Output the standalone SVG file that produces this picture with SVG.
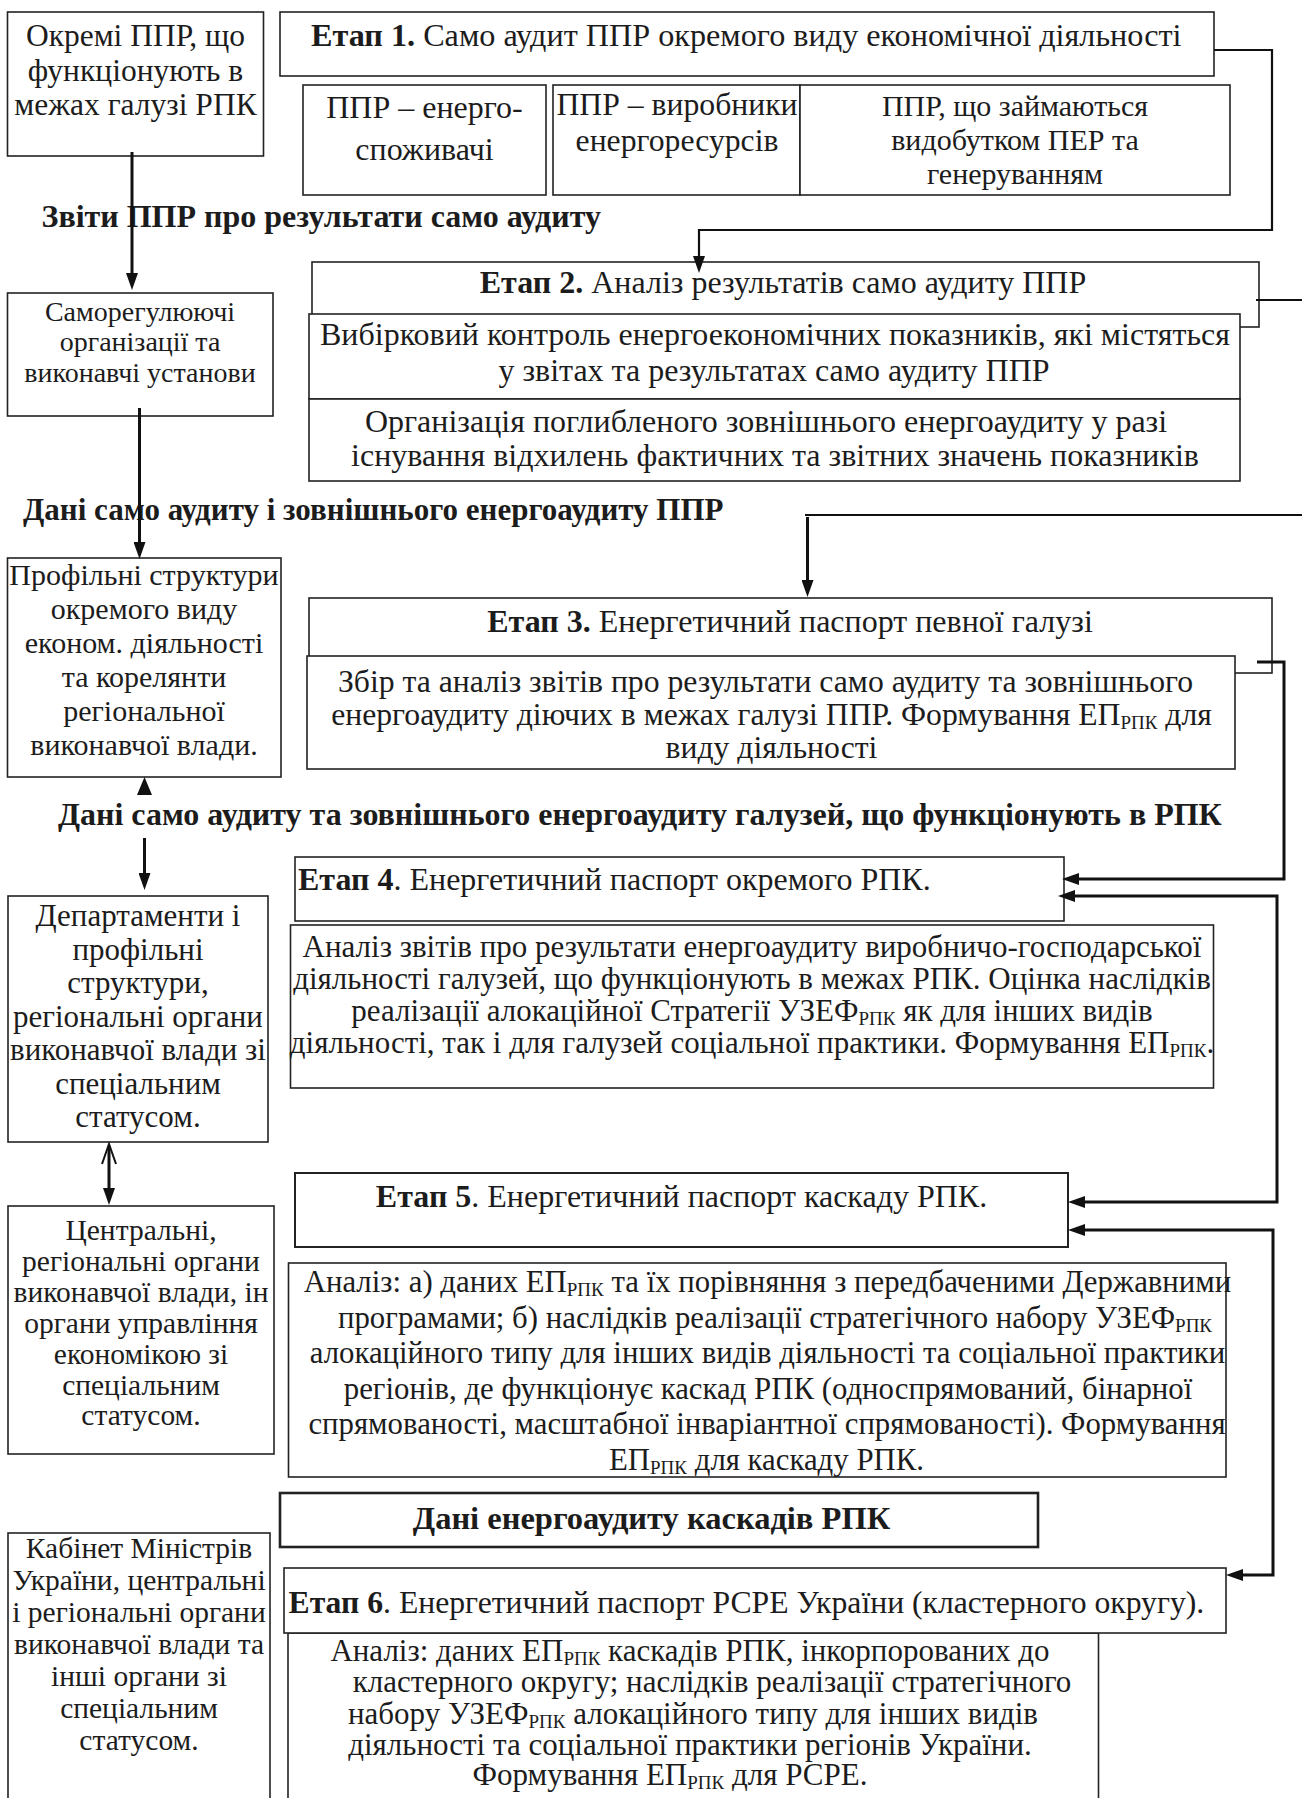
<svg xmlns="http://www.w3.org/2000/svg" width="1302" height="1798" viewBox="0 0 1302 1798">
<defs>
<style>
.bx{fill:#fff;stroke:#222;stroke-width:1.6}
.bx2{fill:#fff;stroke:#222;stroke-width:2.6}
text{font-family:"Liberation Serif","Times New Roman",serif;fill:#1c1c1c;font-size:32px}
.m{text-anchor:middle}
.b{font-weight:bold}
.s{font-size:19px}
.f31{font-size:31px}
.f30{font-size:30px}
.f29{font-size:29.5px}
.f28{font-size:28px}
.cn{fill:none;stroke:#111;stroke-width:3}
.cn2{fill:none;stroke:#111;stroke-width:2.2}
</style>
<marker id="ah" markerUnits="userSpaceOnUse" markerWidth="17" markerHeight="12" refX="10" refY="6" orient="auto-start-reverse" viewBox="0 0 17 12"><path d="M0,0 L17,6 L0,12 z" fill="#111"/></marker>
</defs>
<rect width="1302" height="1798" fill="#fff"/>

<g id="n-okremi">
<rect class="bx" x="7.5" y="12" width="256" height="144"/>
<text class="m" x="135.5" y="46" style="font-size:31.5px">Окремі ППР, що</text>
<text class="m" x="135.5" y="81" style="font-size:31.5px">функціонують в</text>
<text class="m" x="135.5" y="115" style="font-size:31.5px">межах галузі РПК</text>
</g>

<g id="n-etap1">
<rect class="bx" x="280" y="12" width="934" height="64"/>
<text x="311" y="46" style="font-size:32.2px"><tspan class="b">Етап 1.</tspan> Само аудит ППР окремого виду економічної діяльності</text>
</g>

<g id="n-energo">
<rect class="bx" x="303" y="85" width="243" height="110"/>
<text class="m" x="424.5" y="118">ППР – енерго-</text>
<text class="m" x="424.5" y="160">споживачі</text>
</g>

<g id="n-vyrobnyky">
<rect class="bx" x="553" y="85" width="247" height="110"/>
<text class="m" x="677" y="115" style="font-size:31.7px">ППР – виробники</text>
<text class="m" x="677" y="151" style="font-size:31.7px">енергоресурсів</text>
</g>

<g id="n-vydobutok">
<rect class="bx" x="800" y="85" width="430" height="110"/>
<text class="m f30" x="1015" y="116">ППР, що займаються</text>
<text class="m f30" x="1015" y="150">видобутком ПЕР та</text>
<text class="m f30" x="1015" y="184">генеруванням</text>
</g>

<g id="l-zvity">
<text class="b" x="41.5" y="227">Звіти ППР про результати само аудиту</text>
</g>

<g id="n-samoreg">
<rect class="bx" x="7.5" y="293" width="265.5" height="123"/>
<text class="m f28" x="140" y="321">Саморегулюючі</text>
<text class="m f28" x="140" y="351">організації та</text>
<text class="m f28" x="140" y="382">виконавчі установи</text>
</g>

<g id="n-etap2">
<rect class="bx" x="312" y="262" width="947" height="65"/>
<text class="m" x="783" y="293"><tspan class="b">Етап 2.</tspan> Аналіз результатів само аудиту ППР</text>
<rect class="bx" x="309" y="314" width="931" height="85"/>
<text class="m" x="775" y="345">Вибірковий контроль енергоекономічних показників, які містяться</text>
<text class="m" x="774" y="381">у звітах та результатах само аудиту ППР</text>
<rect class="bx" x="309" y="399" width="931" height="82"/>
<text class="m" x="766" y="432">Організація поглибленого зовнішнього енергоаудиту у разі</text>
<text class="m" x="775" y="466">існування відхилень фактичних та звітних значень показників</text>
</g>

<g id="l-dani1">
<text class="b f31" x="23" y="520">Дані само аудиту і зовнішнього енергоаудиту ППР</text>
</g>

<g id="n-profilni">
<rect class="bx" x="7.5" y="558" width="273.5" height="219"/>
<text class="m f30" x="144" y="585">Профільні структури</text>
<text class="m f30" x="144" y="619">окремого виду</text>
<text class="m f30" x="144" y="653">економ. діяльності</text>
<text class="m f30" x="144" y="687">та корелянти</text>
<text class="m f30" x="144" y="721">регіональної</text>
<text class="m f30" x="144" y="755">виконавчої влади.</text>
</g>

<g id="n-etap3">
<rect class="bx" x="309" y="598" width="963" height="75"/>
<text class="m" x="790" y="632"><tspan class="b">Етап 3.</tspan> Енергетичний паспорт певної галузі</text>
<rect class="bx" x="307" y="656" width="928" height="113"/>
<text class="m" x="765.5" y="692" style="font-size:31.7px">Збір та аналіз звітів про результати само аудиту та зовнішнього</text>
<text class="m" x="771.5" y="725" style="font-size:31.7px">енергоаудиту діючих в межах галузі ППР. Формування ЕП<tspan class="s" dy="4">РПК</tspan><tspan dy="-4"> для</tspan></text>
<text class="m" x="771.5" y="758" style="font-size:31.7px">виду діяльності</text>
</g>

<g id="l-dani2">
<text class="b" x="58" y="825">Дані само аудиту та зовнішнього енергоаудиту галузей, що функціонують в РПК</text>
</g>

<g id="n-etap4">
<rect class="bx" x="295" y="857" width="769" height="64"/>
<text x="298" y="890"><tspan class="b">Етап 4</tspan>. Енергетичний паспорт окремого РПК.</text>
<rect class="bx" x="290.5" y="925" width="923" height="163"/>
<text class="m f31" x="752" y="957">Аналіз звітів про результати енергоаудиту виробничо-господарської</text>
<text class="m f31" x="752" y="989">діяльності галузей, що функціонують в межах РПК. Оцінка наслідків</text>
<text class="m f31" x="752" y="1021">реалізації алокаційної Стратегії УЗЕФ<tspan class="s" dy="4">РПК</tspan><tspan dy="-4"> як для інших видів</tspan></text>
<text class="m f31" x="752" y="1053">діяльності, так і для галузей соціальної практики. Формування ЕП<tspan class="s" dy="4">РПК</tspan><tspan dy="-4">.</tspan></text>
</g>

<g id="n-departamenty">
<rect class="bx" x="8" y="896" width="260" height="246"/>
<text class="m f31" x="138" y="926">Департаменти і</text>
<text class="m f31" x="138" y="959.5">профільні</text>
<text class="m f31" x="138" y="993">структури,</text>
<text class="m f31" x="138" y="1026.5">регіональні органи</text>
<text class="m f31" x="138" y="1060">виконавчої влади зі</text>
<text class="m f31" x="138" y="1093.5">спеціальним</text>
<text class="m f31" x="138" y="1127">статусом.</text>
</g>

<g id="n-centralni">
<rect class="bx" x="8" y="1206" width="266" height="248"/>
<text class="m f29" x="141" y="1240">Центральні,</text>
<text class="m f29" x="141" y="1271">регіональні органи</text>
<text class="m f29" x="141" y="1302">виконавчої влади, ін</text>
<text class="m f29" x="141" y="1333">органи управління</text>
<text class="m f29" x="141" y="1364">економікою зі</text>
<text class="m f29" x="141" y="1395">спеціальним</text>
<text class="m f29" x="141" y="1425">статусом.</text>
</g>

<g id="n-etap5">
<rect class="bx" x="295" y="1173" width="773" height="74" style="stroke-width:2"/>
<text class="m" x="681.5" y="1207"><tspan class="b">Етап 5</tspan>. Енергетичний паспорт каскаду РПК.</text>
<rect class="bx" x="288.5" y="1263" width="937.5" height="214"/>
<text class="m" x="767.5" y="1292" style="font-size:30.8px">Аналіз: а) даних ЕП<tspan class="s" dy="4">РПК</tspan><tspan dy="-4"> та їх порівняння з передбаченими Державними</tspan></text>
<text class="m" x="775" y="1327.5" style="font-size:30.8px">програмами; б) наслідків реалізації стратегічного набору УЗЕФ<tspan class="s" dy="4">РПК</tspan></text>
<text class="m" x="767.5" y="1363" style="font-size:30.8px">алокаційного типу для інших видів діяльності та соціальної практики</text>
<text class="m" x="768" y="1398.5" style="font-size:30.8px">регіонів, де функціонує каскад РПК (односпрямований, бінарної</text>
<text class="m" x="767" y="1434" style="font-size:30.8px">спрямованості, масштабної інваріантної спрямованості). Формування</text>
<text class="m" x="766.5" y="1469.5" style="font-size:30.8px">ЕП<tspan class="s" dy="4">РПК</tspan><tspan dy="-4"> для каскаду РПК.</tspan></text>
</g>

<g id="n-dani-kaskadiv">
<rect class="bx2" x="280" y="1493" width="758" height="54"/>
<text class="m b" x="651.5" y="1529" style="font-size:32.5px">Дані енергоаудиту каскадів РПК</text>
</g>

<g id="n-kabinet">
<rect class="bx" x="8" y="1533" width="262" height="300"/>
<text class="m f29" x="139" y="1558">Кабінет Міністрів</text>
<text class="m f29" x="139" y="1590">України, центральні</text>
<text class="m f29" x="139" y="1622">і регіональні органи</text>
<text class="m f29" x="139" y="1654">виконавчої влади та</text>
<text class="m f29" x="139" y="1686">інші органи зі</text>
<text class="m f29" x="139" y="1718">спеціальним</text>
<text class="m f29" x="139" y="1750">статусом.</text>
</g>

<g id="n-etap6">
<rect class="bx" x="288" y="1633" width="810.5" height="200"/>
<rect class="bx" x="284" y="1568" width="942" height="65"/>
<text x="288.5" y="1613" style="font-size:31.7px"><tspan class="b">Етап 6</tspan>. Енергетичний паспорт РСРЕ України (кластерного округу).</text>
<text class="m f31" x="690" y="1661">Аналіз: даних ЕП<tspan class="s" dy="4">РПК</tspan><tspan dy="-4"> каскадів РПК, інкорпорованих до</tspan></text>
<text class="m f31" x="712" y="1692">кластерного округу; наслідків реалізації стратегічного</text>
<text class="m f31" x="693" y="1724">набору УЗЕФ<tspan class="s" dy="4">РПК</tspan><tspan dy="-4"> алокаційного типу для інших видів</tspan></text>
<text class="m f31" x="690" y="1755">діяльності та соціальної практики регіонів України.</text>
<text class="m f31" x="670" y="1785">Формування ЕП<tspan class="s" dy="4">РПК</tspan><tspan dy="-4"> для РСРЕ.</tspan></text>
</g>

<g id="connectors">
<path class="cn" d="M132,152 V283" marker-end="url(#ah)"/>
<path class="cn" d="M139.5,408 V552" marker-end="url(#ah)"/>
<path d="M144.5,777 L152,795 L137,795 z" fill="#111"/>
<path class="cn" d="M144.5,838 V883" marker-end="url(#ah)"/>
<path class="cn" d="M109,1146 V1198" marker-end="url(#ah)"/>
<path d="M102,1164 L109,1144 L116,1164" fill="none" stroke="#111" stroke-width="2"/>
<path class="cn2" d="M1214,50 H1272 V230 H699 V266" marker-end="url(#ah)"/>
<path class="cn2" d="M1256,300 H1302"/>
<path class="cn2" d="M805,515 H1302"/>
<path class="cn" d="M807.5,517 V590" marker-end="url(#ah)"/>
<path class="cn" d="M1257,662 H1284 V879 H1069" marker-end="url(#ah)"/>
<path class="cn" d="M1065,896 H1277 V1202 H1075" marker-start="url(#ah)" marker-end="url(#ah)"/>
<path class="cn" d="M1075,1230 H1273 V1575 H1233" marker-start="url(#ah)" marker-end="url(#ah)"/>
</g>
</svg>
